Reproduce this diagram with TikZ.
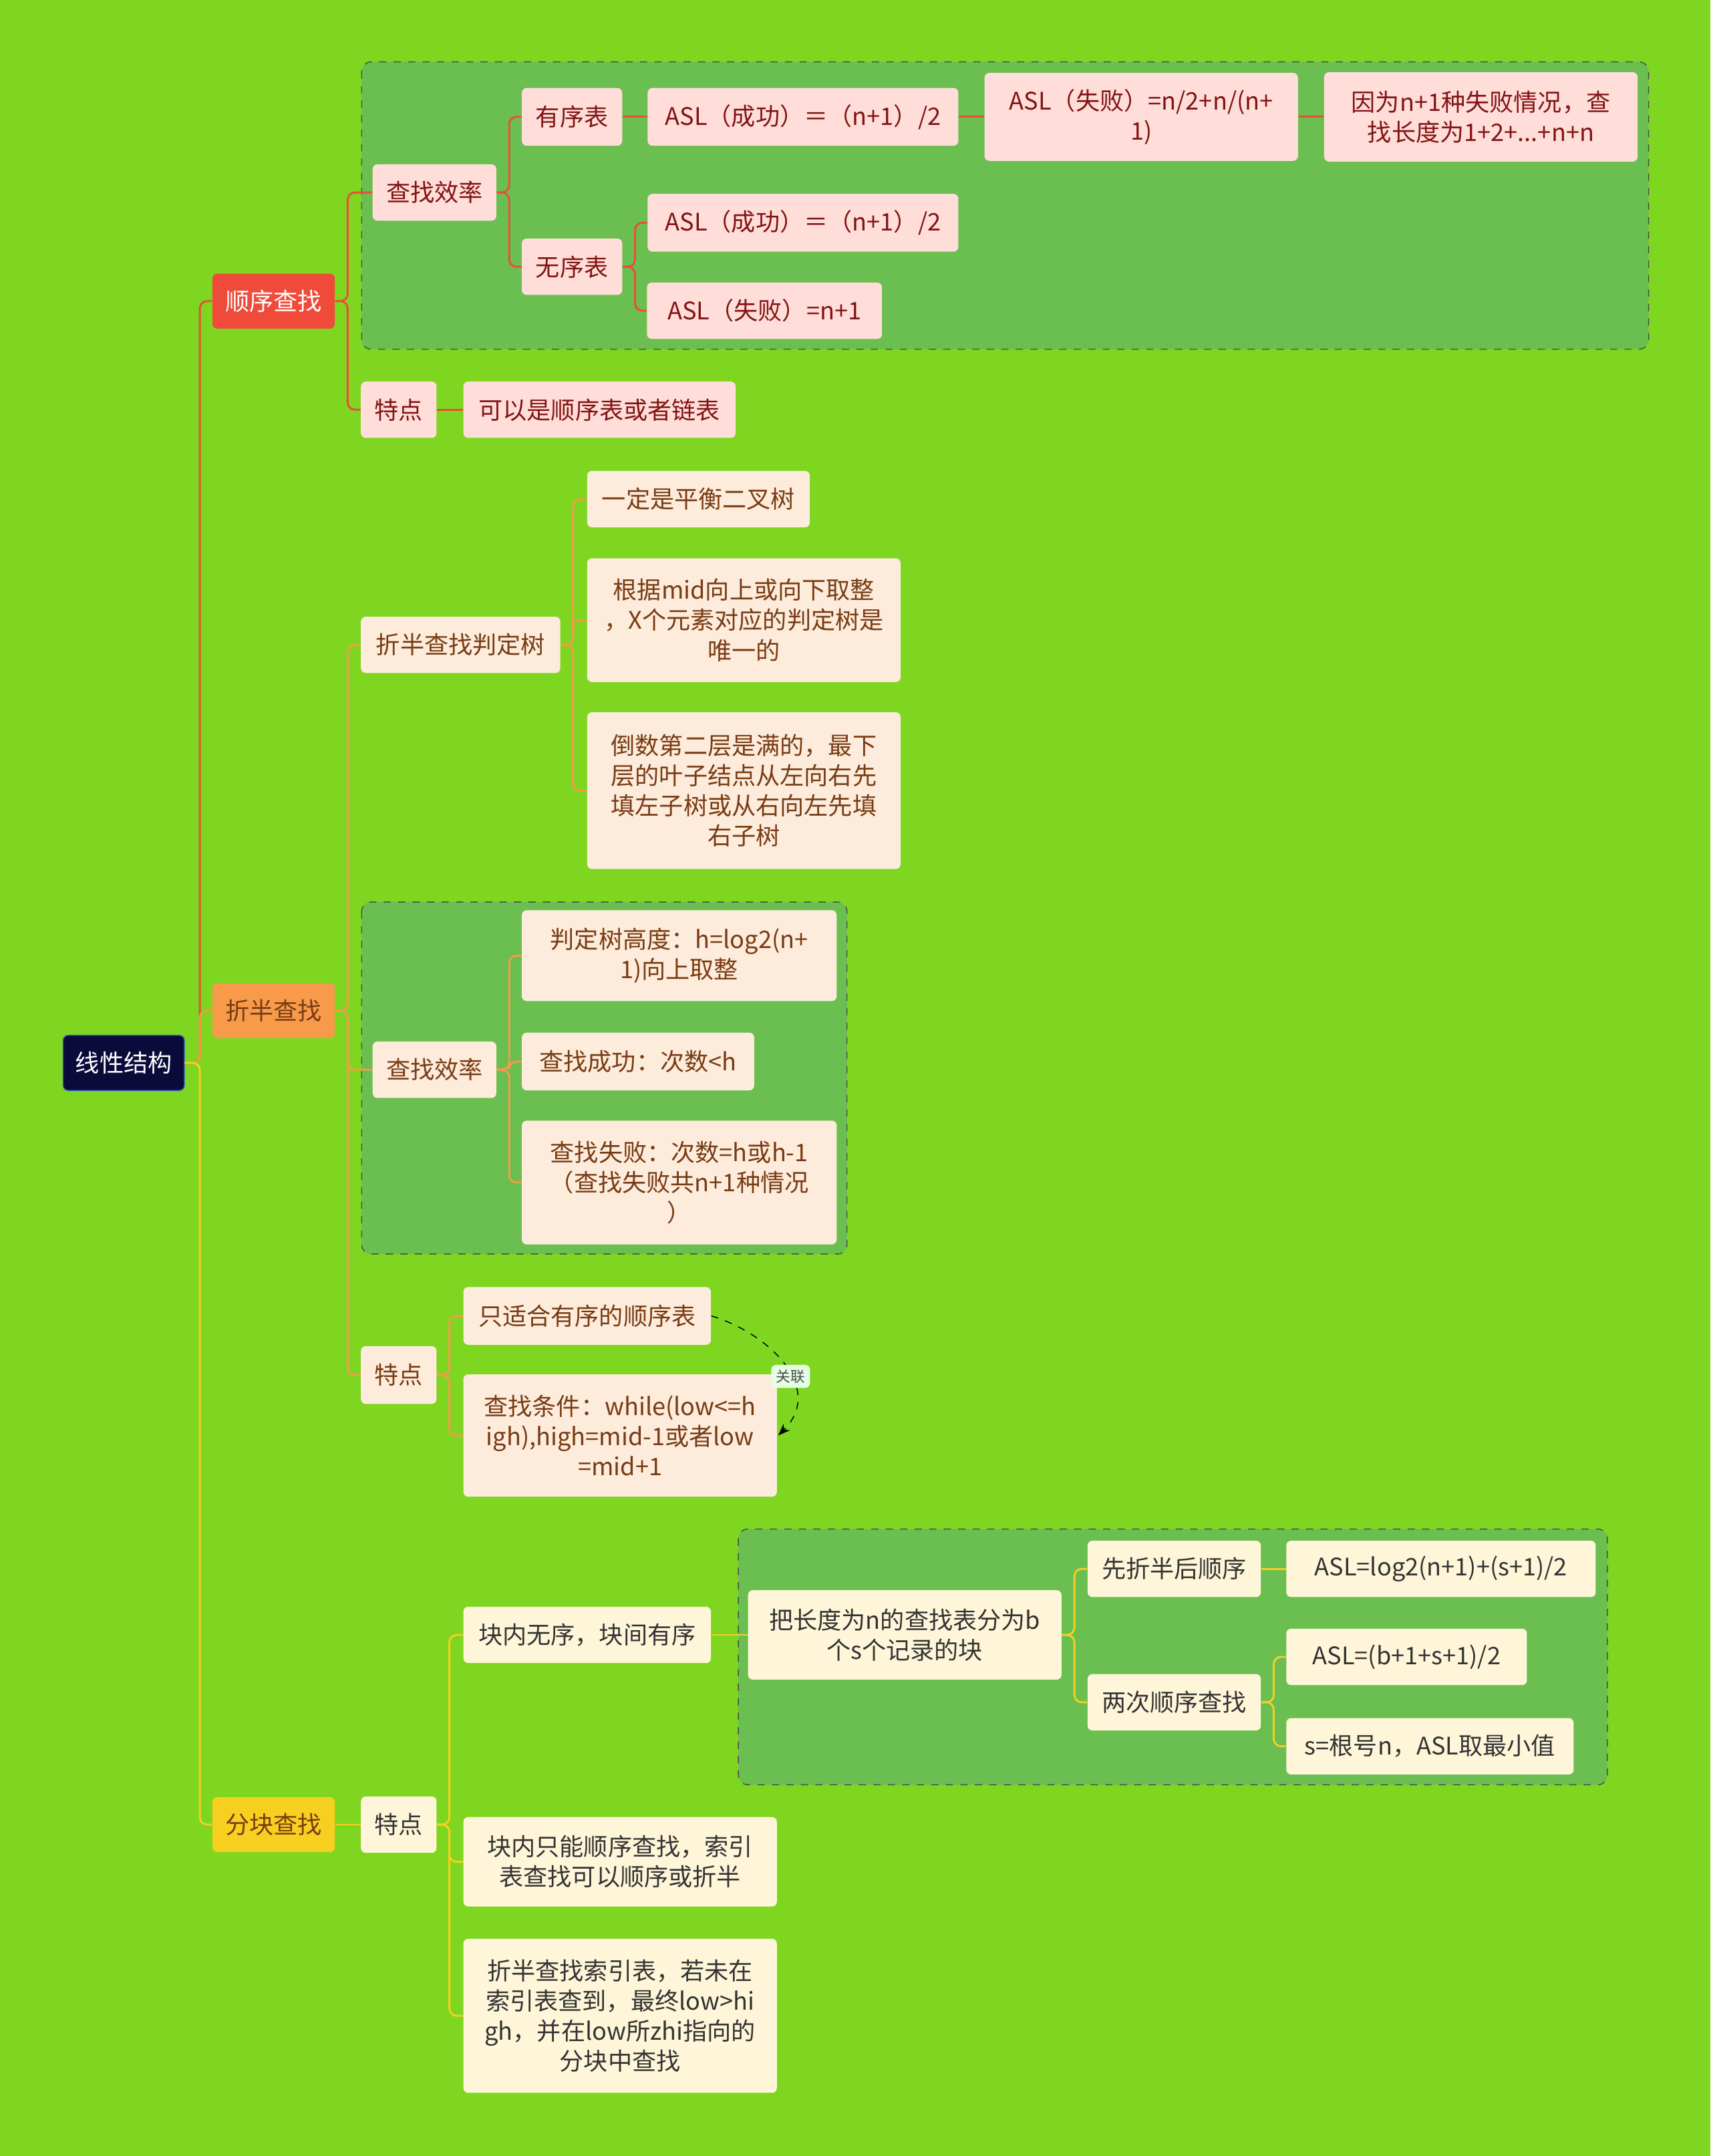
\documentclass[tikz,border=0pt]{standalone}
\usepackage{fontspec}
\setmainfont{Noto Sans CJK SC}
\usetikzlibrary{arrows.meta}
\definecolor{bgc}{RGB}{126,214,32}
\definecolor{grpc}{RGB}{107,190,80}
\definecolor{redc}{RGB}{240,74,58}
\definecolor{orac}{RGB}{247,154,74}
\definecolor{yelc}{RGB}{245,208,32}
\definecolor{pinkc}{RGB}{255,221,217}
\definecolor{peachc}{RGB}{253,235,219}
\definecolor{creamc}{RGB}{255,246,217}
\definecolor{darkred}{RGB}{130,20,20}
\definecolor{brownc}{RGB}{120,60,20}
\tikzset{
  sz/.style 2 args={minimum width=#1*0.02cm, minimum height=#2*0.02cm},
  box/.style={rectangle, rounded corners=2pt, inner sep=1pt, align=center, font=\fontsize{10}{12.5}\selectfont},
  b1/.style={box, fill=pinkc, text=darkred},
  b2/.style={box, fill=peachc, text=brownc},
  b3/.style={box, fill=creamc, text=black!80},
  grp/.style={draw=black!70, dashed, fill=grpc, rounded corners=4pt},
  l1/.style={draw=redc, line width=0.8pt, rounded corners=3pt},
  l2/.style={draw=orac, line width=0.8pt, rounded corners=3pt},
  l3/.style={draw=yelc, line width=0.8pt, rounded corners=3pt}
}
\begin{document}
\begin{tikzpicture}[x=0.02cm, y=-0.02cm]
\fill[bgc] (0,0) rectangle (1244,1568);
\useasboundingbox (0,0) rectangle (1244,1568);

%% groups %%
\draw[grp] (263,45) rectangle (1199,254);
\draw[grp] (263,656) rectangle (616,912);
\draw[grp] (537,1112) rectangle (1169,1298);

%% root and branches %%
\node[box, sz={88}{40}, fill={rgb,255:red,11;green,11;blue,59}, draw={rgb,255:red,48;green,80;blue,192}, text=white] (root) at (90,773) {线性结构};
\node[box, sz={89}{40}, fill=redc, text=white] (seq) at (199,219) {顺序查找};
\node[box, sz={89}{40}, fill=orac, text=brownc] (bin) at (199,735) {折半查找};
\node[box, sz={89}{40}, fill=yelc, text=brownc] (blk) at (199,1327) {分块查找};

%% 顺序查找 %%
\node[b1, sz={90}{41}] (seqEff) at (316,140) {查找效率};
\node[b1, sz={55}{41}] (seqFeat) at (290,298) {特点};
\node[b1, sz={73}{42}] (ordered) at (416,85) {有序表};
\node[b1, sz={73}{41}] (unordered) at (416,194) {无序表};
\node[b1, sz={226}{42}] (ordOk) at (584,85) {ASL（成功）＝（n+1）/2};
\node[b1, sz={228}{64}] (ordFail) at (830,85) {ASL（失败）=n/2+n/(n+\\1)};
\node[b1, sz={228}{65}] (ordWhy) at (1077,85) {因为n+1种失败情况，查\\找长度为1+2+...+n+n};
\node[b1, sz={226}{42}] (unOk) at (584,162) {ASL（成功）＝（n+1）/2};
\node[b1, sz={171}{41}] (unFail) at (556,226) {ASL（失败）=n+1};
\node[b1, sz={198}{41}] (seqList) at (436,298) {可以是顺序表或者链表};

%% 折半查找 %%
\node[b2, sz={145}{41}] (tree) at (335,469) {折半查找判定树};
\node[b2, sz={162}{41}] (avl) at (508,363) {一定是平衡二叉树};
\node[b2, sz={228}{90}] (unique) at (541,451) {根据mid向上或向下取整\\，X个元素对应的判定树是\\唯一的};
\node[b2, sz={228}{114}] (leaf) at (541,575) {倒数第二层是满的，最下\\层的叶子结点从左向右先\\填左子树或从右向左先填\\右子树};
\node[b2, sz={90}{41}] (binEff) at (316,778) {查找效率};
\node[b2, sz={229}{66}] (height) at (494,695) {判定树高度：h=log2(n+\\1)向上取整};
\node[b2, sz={169}{42}] (hit) at (464,772) {查找成功：次数<h};
\node[b2, sz={229}{90}] (miss) at (494,860) {查找失败：次数=h或h-1\\（查找失败共n+1种情况\\）};
\node[b2, sz={55}{42}] (binFeat) at (290,1000) {特点};
\node[b2, sz={180}{42}] (onlyOrd) at (427,957) {只适合有序的顺序表};
\node[b2, sz={228}{89}] (cond) at (451,1044) {查找条件：while(low<=h\\igh),high=mid-1或者low\\=mid+1};

%% 分块查找 %%
\node[b3, sz={55}{41}] (blkFeat) at (290,1327) {特点};
\node[b3, sz={180}{41}] (inOut) at (427,1189) {块内无序，块间有序};
\node[b3, sz={228}{65}] (split) at (658,1189) {把长度为n的查找表分为b\\个s个记录的块};
\node[b3, sz={126}{41}] (binSeq) at (854,1141) {先折半后顺序};
\node[b3, sz={126}{41}] (twoSeq) at (854,1238) {两次顺序查找};
\node[b3, sz={225}{41}] (aslA) at (1048,1141) {ASL=log2(n+1)+(s+1)/2};
\node[b3, sz={175}{41}] (aslB) at (1023,1205) {ASL=(b+1+s+1)/2};
\node[b3, sz={209}{41}] (aslC) at (1040,1270) {s=根号n，ASL取最小值};
\node[b3, sz={228}{65}] (inSeq) at (451,1354) {块内只能顺序查找，索引\\表查找可以顺序或折半};
\node[b3, sz={228}{112}] (idx) at (451,1466) {折半查找索引表，若未在\\索引表查到，最终low>hi\\gh，并在low所zhi指向的\\分块中查找};

%% 连线 %%
\draw[l1] (root.east) -- ++(11,0) |- (seq.west);
\draw[l2] (root.east) -- ++(11,0) |- (bin.west);
\draw[l3] (root.east) -- ++(11,0) |- (blk.west);

\foreach \a/\b in {seq/seqEff, seq/seqFeat, seqEff/ordered, seqEff/unordered, unordered/unOk, unordered/unFail}
  \draw[l1] (\a.east) -- ++(9,0) |- (\b.west);
\foreach \a/\b in {ordered/ordOk, ordOk/ordFail, ordFail/ordWhy, seqFeat/seqList}
  \draw[l1] (\a.east) -- (\b.west);
\foreach \a/\b in {bin/tree, bin/binEff, bin/binFeat, tree/avl, tree/unique, tree/leaf, binEff/height, binEff/hit, binEff/miss, binFeat/onlyOrd, binFeat/cond}
  \draw[l2] (\a.east) -- ++(9,0) |- (\b.west);
\foreach \a/\b in {blkFeat/inOut, blkFeat/inSeq, blkFeat/idx, split/binSeq, split/twoSeq, twoSeq/aslB, twoSeq/aslC}
  \draw[l3] (\a.east) -- ++(9,0) |- (\b.west);
\foreach \a/\b in {blk/blkFeat, inOut/split, binSeq/aslA}
  \draw[l3] (\a.east) -- (\b.west);

%% 关联 %%
\draw[dashed, -{Stealth[length=5pt]}] (onlyOrd.east) .. controls (560,970) and (600,1010) .. (566,1044);
\node[box, fill=white!90!green, text=black!70, font=\fontsize{6}{7}\selectfont, inner sep=2pt] (rel) at (575,1001) {关联};
\end{tikzpicture}
\end{document}
